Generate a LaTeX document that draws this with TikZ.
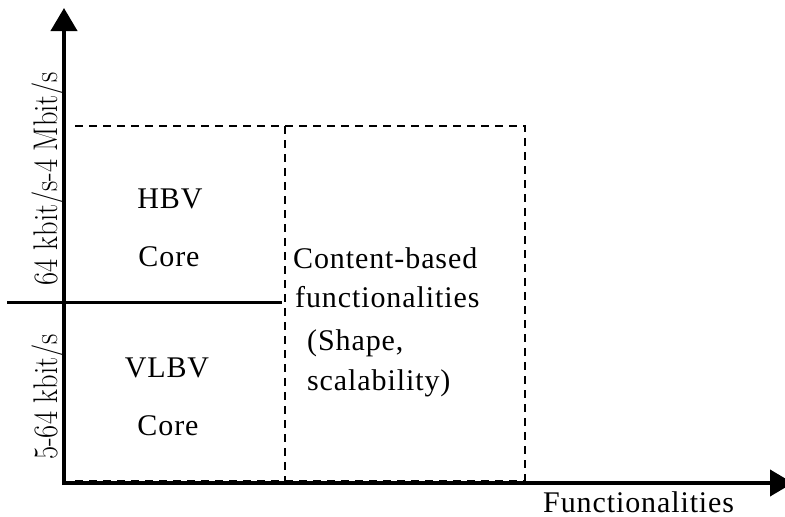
\documentclass[tikz,border=0pt]{standalone}
\usepackage{fontspec}
\usepackage{graphicx}
\usetikzlibrary{arrows.meta}
\newfontfamily\tnr[LetterSpace=3]{Liberation Serif}
\newcommand{\tallrate}[1]{\scalebox{1}[1.2]{#1}}
\tikzset{
  axis/.style={line width=4pt, -{Triangle[length=23pt,width=26pt]}},
  divider/.style={line width=3pt},
  zone/.style={dashed, line width=2pt, dash pattern=on 8pt off 6pt},
  lbl/.style={font=\tnr\fontsize{30}{36}\selectfont, inner sep=0pt},
  ylbl/.style={font=\fontsize{28.5}{34}\selectfont, inner sep=0pt, rotate=90, anchor=base},
}
\begin{document}
\begin{tikzpicture}[x=1pt,y=-1pt]
\clip (0,0) rectangle (785,517);
\useasboundingbox (0,0) rectangle (785,517);

% corner points of the chart
\coordinate (o) at (62,483);
\coordinate (ytop) at (64,8);
\coordinate (ybot) at (64,485);
\coordinate (xend) at (793,483);
\coordinate (tl) at (75,126);
\coordinate (tm) at (285,126);
\coordinate (tr) at (525,126);
\coordinate (bm) at (285,481);
\coordinate (br) at (525,481);
\coordinate (bl) at (75,481);
\coordinate (hl) at (7,302);
\coordinate (hr) at (282,302);

% dashed regions
\draw[zone] (tl) -- (tr) -- (br);
\draw[zone] (tm) -- (bm);
\draw[zone] (bl) -- (br);

% bit-rate split
\draw[divider] (hl) -- (hr);

% axes
\draw[axis] (ybot) -- (ytop);
\draw[axis] (o) -- (xend);

% axis labels
\node[ylbl] (yhigh) at (57,178.5) {\tallrate{64 kbit/s-4 Mbit/s}};
\node[ylbl] (ylow) at (57,397) {\tallrate{5-64 kbit/s}};
\node[lbl, anchor=base west] (xlab) at (543,512) {Functionalities};

% region texts
\node[lbl, anchor=base] (hbv) at (170,208) {HBV};
\node[lbl, anchor=base] (core1) at (169,266) {Core};
\node[lbl, anchor=base] (vlbv) at (167,377) {VLBV};
\node[lbl, anchor=base] (core2) at (168,435) {Core};
\node[lbl, anchor=base west] (cb1) at (293,268) {Content-based};
\node[lbl, anchor=base west] (cb2) at (295,307) {functionalities};
\node[lbl, anchor=base west] (cb3) at (307,350) {(Shape,};
\node[lbl, anchor=base west] (cb4) at (307,390) {scalability)};
\end{tikzpicture}
\end{document}
